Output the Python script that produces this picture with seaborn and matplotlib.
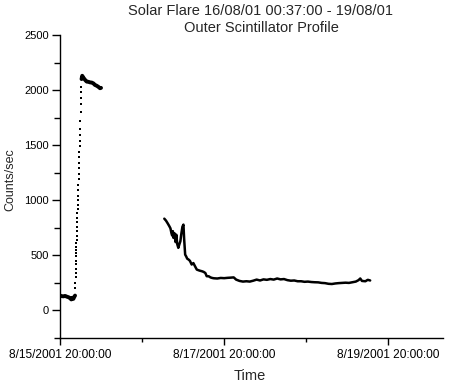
import numpy as np
import pandas as pd
import matplotlib
matplotlib.use("Agg")
import matplotlib.pyplot as plt
import matplotlib.dates as mdates
from matplotlib.ticker import MultipleLocator, FuncFormatter
import seaborn as sns

# ---- data (hours after 8/15/2001 20:00:00, counts/sec) ----
pre_hours = [0.0, 0.5, 1.0, 1.5, 2.0, 2.5, 3.0, 3.3, 3.6, 3.9, 4.2, 4.4]
pre_counts = [135, 130, 128, 132, 125, 120, 110, 100, 115, 105, 125, 135]

rise_hours = [4.45, 4.50, 4.55, 4.60, 4.62, 4.65, 4.68, 4.70, 4.72, 4.75, 4.78, 4.80,
              4.83, 4.86, 4.90, 4.95, 5.00, 5.05, 5.10, 5.15, 5.20, 5.25, 5.30, 5.35,
              5.40, 5.45, 5.50, 5.55, 5.60, 5.65, 5.70, 5.75, 5.80, 5.85, 5.90, 5.95,
              6.00, 6.05, 6.10, 6.15, 6.20]
rise_counts = [200, 250, 300, 340, 380, 420, 450, 490, 520, 550, 580, 610,
               640, 680, 720, 760, 800, 840, 880, 920, 960, 1000, 1040, 1090,
               1140, 1190, 1240, 1290, 1340, 1390, 1440, 1490, 1540, 1590, 1650, 1720,
               1800, 1870, 1930, 1980, 2030]

peak_hours = [6.3, 6.5, 6.9, 7.4, 7.8, 8.3, 8.8, 9.3, 9.8, 10.2, 10.7, 11.2, 11.7, 12.0]
peak_counts = [2100, 2130, 2110, 2090, 2077, 2075, 2070, 2068, 2060, 2047, 2040, 2030, 2017, 2020]

decay_hours = [30.5, 31.0, 31.5, 32.0, 32.3, 32.6, 32.8, 33.0, 33.2, 33.5, 33.8, 34.0,
               34.3, 34.6, 34.9, 35.2, 35.5, 35.8, 36.1, 36.3, 36.6, 36.9, 37.2, 37.6,
               38.0, 38.5, 39.0, 39.5, 40.0, 40.5, 41.0, 41.5, 42.0, 42.5, 42.9, 43.5,
               44.0, 44.5, 45.0, 46.0, 47.0, 48.0, 49.0, 50.0, 50.8, 51.5, 52.5, 53.5,
               54.5, 55.5, 56.5, 57.5, 58.5, 59.5, 60.5, 61.5, 62.5, 63.5, 64.5, 65.5,
               66.5, 67.5, 68.5, 69.5, 70.5, 71.5, 72.5, 73.5, 74.5, 75.5, 76.5, 77.5,
               78.5, 79.5, 80.5, 81.5, 82.5, 83.5, 84.5, 85.5, 86.5, 87.3, 87.8, 88.3,
               89.3, 90.0, 90.7]
decay_counts = [833, 815, 790, 763, 745, 700, 680, 720, 658, 700, 620, 688,
                600, 568, 600, 628, 700, 760, 779, 650, 507, 490, 470, 462,
                450, 417, 430, 400, 371, 365, 360, 356, 350, 340, 311, 310,
                300, 295, 292, 290, 295, 293, 296, 298, 300, 280, 268, 262,
                265, 262, 270, 280, 272, 282, 278, 285, 280, 290, 282, 285,
                275, 270, 272, 265, 265, 260, 262, 258, 256, 255, 250, 248,
                242, 240, 245, 248, 250, 252, 250, 256, 262, 275, 290, 268,
                265, 278, 272]

t0 = pd.Timestamp("2001-08-15 20:00:00")

def frame(hours, counts):
    return pd.DataFrame({"Time": t0 + pd.to_timedelta(hours, unit="h"),
                         "Counts": counts})

pre = frame(pre_hours, pre_counts)
rise = frame(rise_hours, rise_counts)
peak = frame(peak_hours, peak_counts)
decay = frame(decay_hours, decay_counts)

sns.set_theme(style="ticks")
plt.rcParams["font.family"] = ["Liberation Sans", "DejaVu Sans"]

W, H = 451, 386
fig = plt.figure(figsize=(W / 100, H / 100), dpi=100)
ax = fig.add_axes([60 / W, 1 - 338 / H, (443 - 60) / W, (338 - 35) / H])

sns.lineplot(data=pre, x="Time", y="Counts", ax=ax, color="black", lw=2.8)
sns.scatterplot(data=rise, x="Time", y="Counts", ax=ax, color="black",
                marker="s", s=4.5, linewidth=0)
sns.lineplot(data=peak, x="Time", y="Counts", ax=ax, color="black", lw=2.8)
sns.lineplot(data=decay, x="Time", y="Counts", ax=ax, color="black", lw=1.8)

ax.set_xlim(t0, t0 + pd.Timedelta(hours=112))
ax.set_ylim(-250, 2500)

ax.set_xticks([t0, t0 + pd.Timedelta(hours=48), t0 + pd.Timedelta(hours=96)])
ax.set_xticks([t0 + pd.Timedelta(hours=24), t0 + pd.Timedelta(hours=72)], minor=True)

def fmt(v, pos):
    d = mdates.num2date(v)
    return f"{d.month}/{d.day}/{d.year} {d:%H:%M:%S}"

ax.xaxis.set_major_formatter(FuncFormatter(fmt))
ax.set_yticks([0, 500, 1000, 1500, 2000, 2500])
ax.yaxis.set_minor_locator(MultipleLocator(250))

for sp in ["top", "right"]:
    ax.spines[sp].set_visible(False)
for sp in ["left", "bottom"]:
    ax.spines[sp].set_color("black")
    ax.spines[sp].set_linewidth(1.0)

ax.tick_params(axis="both", which="both", direction="out", colors="black",
               width=1.0)
ax.tick_params(axis="y", which="major", length=6, pad=2, labelsize=8)
ax.tick_params(axis="y", which="minor", length=4)
ax.tick_params(axis="x", which="major", length=5, pad=3, labelsize=8.6)
ax.tick_params(axis="x", which="minor", length=3)

ax.set_xlabel("")
ax.set_ylabel("")
fig.text(10 / W, 1 - 180 / H, "Counts/sec", rotation=90, ha="center", va="center",
         fontsize=9)
fig.text(250 / W, 1 - 376 / H, "Time", ha="center", va="center", fontsize=10.5)
fig.text(261 / W, 1 - 11 / H, "Solar Flare 16/08/01 00:37:00 - 19/08/01",
         ha="center", va="center", fontsize=10.5)
fig.text(261 / W, 1 - 28 / H, "Outer Scintillator Profile",
         ha="center", va="center", fontsize=10.5)

ax.set_facecolor("white")
fig.patch.set_facecolor("white")
fig.savefig("out.png", dpi=100)
